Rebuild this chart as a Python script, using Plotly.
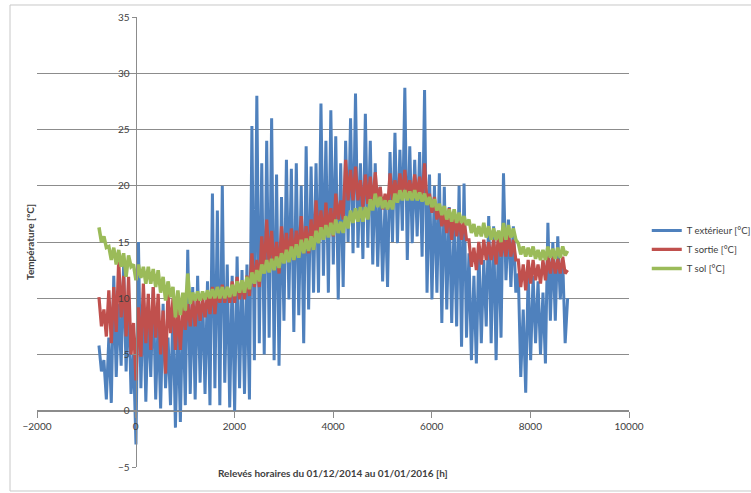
import plotly.graph_objects as go

# Hourly readings (sampled every 50 h), hour 0 = 01/01/2015
hours = list(range(-744, 8757, 50))

t_ext = [
    5.8, 3.5, 4.5, 1.0, 6.5, 0.7, 12.0, 3.0, 9.5, 4.0, 13.0, 3.5, 10.5, 1.5, 5.0, -3.0, 15.0, 2.0, 10.5, 0.8,
    9.0, 3.0, 11.0, 1.0, 8.0, 0.2, 9.5, 2.0, 6.5, 0.5, 9.0, -1.5, 8.0, -1.0, 10.0, 0.5, 14.3, 1.5, 11.0, 1.0,
    12.0, 2.5, 10.5, 1.5, 11.5, 0.5, 19.3, 2.0, 17.8, 0.5, 20.0, 2.5, 13.0, 0.3, 12.0, 0.0, 13.7, 2.0, 12.5, 1.5,
    13.0, 1.0, 25.3, 4.5, 28.0, 6.0, 22.0, 5.0, 24.0, 6.5, 26.0, 4.5, 21.0, 4.0, 19.0, 8.0, 22.3, 9.9, 21.5, 7.0,
    22.0, 8.5, 20.0, 6.0, 23.5, 9.0, 21.7, 10.5, 22.0, 10.5, 27.3, 12.0, 24.0, 10.5, 26.7, 13.0, 24.4, 9.9, 22.0, 11.0,
    24.0, 15.0, 26.0, 14.0, 28.2, 14.5, 22.0, 13.5, 26.4, 14.5, 24.0, 13.0, 22.0, 12.8, 19.9, 11.5, 18.7, 11.0, 23.0, 15.0,
    24.7, 14.9, 23.2, 16.0, 28.7, 13.4, 23.5, 14.9, 22.3, 15.5, 23.0, 13.7, 28.5, 10.5, 21.0, 9.9, 20.0, 10.5, 21.1, 7.8,
    19.9, 9.0, 18.1, 7.8, 17.0, 7.5, 20.0, 5.7, 20.2, 6.5, 14.0, 4.5, 12.0, 4.2, 14.6, 6.0, 13.4, 7.5, 17.3, 6.0,
    16.4, 4.5, 16.0, 6.5, 21.1, 11.6, 17.0, 11.0, 16.4, 10.5, 12.2, 3.0, 9.0, 1.6, 12.2, 4.5, 12.0, 6.0, 11.5, 5.0,
    10.5, 4.2, 16.7, 8.0, 15.0, 8.0, 15.5, 9.9, 13.4, 6.0, 10.0,
]

t_sortie = [
    10.1, 7.5, 9.0, 6.6, 10.7, 6.0, 11.0, 7.0, 13.4, 8.3, 12.0, 6.6, 11.9, 5.0, 7.8, 2.7, 9.2, 4.8, 11.3, 6.0,
    10.4, 5.4, 11.0, 6.5, 10.4, 5.0, 8.9, 3.3, 10.7, 6.9, 10.0, 5.4, 9.2, 5.4, 9.5, 7.2, 9.5, 7.5, 10.0, 7.5,
    10.4, 8.0, 10.0, 8.3, 10.4, 8.6, 11.0, 8.6, 11.0, 9.6, 11.2, 9.6, 11.0, 9.6, 11.5, 9.6, 11.9, 9.9, 11.5, 9.9,
    12.0, 10.2, 14.0, 11.0, 13.4, 11.0, 15.5, 12.2, 17.0, 13.0, 16.0, 12.5, 15.0, 12.2, 16.4, 13.4, 15.8, 13.4, 16.2, 13.4,
    16.0, 13.8, 17.3, 14.0, 16.4, 14.0, 17.0, 14.3, 18.7, 15.5, 17.8, 15.2, 18.5, 15.8, 18.0, 15.5, 19.3, 17.0, 18.7, 17.0,
    22.3, 18.7, 21.4, 18.7, 21.7, 18.7, 20.5, 18.1, 21.0, 18.4, 20.8, 18.1, 21.2, 18.5, 19.9, 17.9, 19.3, 17.9, 21.1, 18.7,
    20.5, 18.7, 21.1, 19.0, 21.4, 19.0, 20.5, 19.0, 21.0, 19.0, 20.8, 18.8, 22.0, 18.5, 19.3, 17.6, 19.0, 17.0, 18.1, 16.4,
    17.6, 15.8, 18.0, 15.2, 17.6, 15.5, 17.3, 15.2, 17.0, 15.2, 15.2, 12.8, 14.5, 12.5, 15.0, 13.0, 15.2, 13.4, 15.0, 13.4,
    15.2, 13.0, 15.8, 13.7, 15.5, 13.7, 15.8, 13.7, 15.2, 13.4, 13.4, 11.0, 13.0, 10.7, 13.4, 11.3, 13.4, 11.6, 13.0, 11.3,
    13.4, 11.6, 13.7, 12.2, 13.7, 12.2, 13.5, 12.2, 13.7, 12.2, 12.5,
]

t_sol = [
    16.3, 15.0, 15.5, 14.5, 14.6, 13.4, 14.5, 13.0, 14.3, 12.8, 14.0, 11.9, 13.8, 12.8, 13.0, 11.6, 13.0, 11.8, 12.8, 11.3,
    12.8, 11.3, 12.6, 11.0, 12.5, 10.5, 11.9, 9.8, 11.5, 10.1, 11.0, 8.3, 10.7, 8.5, 10.5, 8.9, 12.2, 9.5, 10.5, 9.8,
    10.6, 9.8, 10.6, 9.9, 10.7, 10.0, 10.8, 10.0, 11.0, 10.0, 11.0, 10.0, 11.0, 10.1, 11.2, 10.2, 11.5, 10.5, 11.6, 10.5,
    11.9, 10.8, 12.3, 11.3, 12.5, 11.5, 13.0, 12.2, 13.4, 12.3, 13.5, 12.5, 13.7, 12.7, 14.0, 13.1, 14.3, 13.2, 14.6, 13.4,
    14.8, 13.6, 15.2, 14.0, 15.3, 14.2, 15.5, 14.3, 16.0, 14.9, 16.3, 15.2, 16.5, 15.4, 16.7, 15.6, 17.0, 15.8, 16.8, 15.8,
    17.3, 16.2, 17.8, 16.7, 18.0, 16.8, 18.1, 16.8, 18.1, 17.0, 18.8, 17.8, 19.3, 18.1, 19.0, 18.0, 18.7, 17.9, 18.7, 17.9,
    19.3, 18.5, 19.6, 18.7, 19.6, 18.7, 19.5, 18.7, 19.6, 18.7, 19.4, 18.6, 19.3, 18.3, 19.0, 18.1, 18.8, 17.8, 18.4, 17.4,
    18.2, 17.0, 17.9, 16.8, 17.9, 16.7, 17.6, 16.7, 17.3, 16.5, 17.0, 15.8, 16.6, 15.5, 16.4, 15.5, 16.7, 15.4, 16.4, 15.2,
    16.2, 15.2, 16.0, 15.0, 16.7, 15.2, 16.5, 15.4, 16.2, 15.2, 14.9, 13.9, 14.6, 13.7, 14.5, 13.7, 14.6, 13.5, 14.3, 13.4,
    14.3, 13.4, 14.6, 13.6, 14.4, 13.5, 14.5, 13.6, 14.6, 13.8, 14.2,
]

series_names = ["T extérieur [°C]", "T sortie [°C]", "T sol [°C]"]
series_colors = ["#4F81BD", "#C0504D", "#9BBB59"]
x_title = "Relevés horaires du 01/12/2014 au 01/01/2016 [h]"
y_title = "Température [°C]"

FONT = "Lato, 'Open Sans', sans-serif"
TXT = "#404040"
GRID = "#8c8c8c"

fig = go.Figure()
for name, vals, col, w in zip(series_names, [t_ext, t_sortie, t_sol], series_colors, [3, 3.2, 3.5]):
    fig.add_trace(go.Scatter(x=hours, y=vals, mode="lines", name=name,
                             line=dict(color=col, width=w)))

fig.update_layout(
    width=751, height=493,
    margin=dict(l=37, r=122, t=17, b=26, autoexpand=False),
    paper_bgcolor="white", plot_bgcolor="white",
    font=dict(family=FONT, size=10, color=TXT),
    showlegend=True,
    legend=dict(x=1.030, y=0.558, xanchor="left", yanchor="top",
                font=dict(size=9.5, color=TXT), bgcolor="rgba(0,0,0,0)",
                tracegroupgap=0, itemwidth=30),
    xaxis=dict(range=[-2000, 10000], dtick=2000, tick0=0, showgrid=False,
               tickformat="d",
               zeroline=False, showline=True, linecolor=GRID, linewidth=1,
               ticks="outside", ticklen=6, tickcolor=GRID,
               anchor="free", position=0.125,
               tickfont=dict(size=10, color=TXT)),
    yaxis=dict(range=[-5, 35], dtick=5, showgrid=True, gridcolor=GRID, gridwidth=1,
               zeroline=False, showline=True, linecolor=GRID, linewidth=1,
               ticks="outside", ticklen=4, tickcolor=GRID,
               anchor="free", position=1/6,
               tickfont=dict(size=10, color=TXT)),
)

fig.add_annotation(text="<b>" + y_title + "</b>", xref="paper", yref="paper",
                   x=-0.012, y=0.5, textangle=-90, showarrow=False,
                   font=dict(size=10, color=TXT), xanchor="center", yanchor="middle")
fig.add_annotation(text="<b>" + x_title + "</b>", xref="paper", yref="paper",
                   x=0.5, y=0.004, showarrow=False,
                   font=dict(size=10, color=TXT), xanchor="center", yanchor="top")

fig.add_shape(type="rect", xref="paper", yref="paper",
              x0=-0.0456, x1=1.21, y0=-0.0533, y1=1.0267,
              line=dict(color="#c8c8c8", width=1), fillcolor="rgba(0,0,0,0)", layer="below")

fig.write_html("out.html", config={"displayModeBar": False},
               post_script="document.body.style.margin='0';")
